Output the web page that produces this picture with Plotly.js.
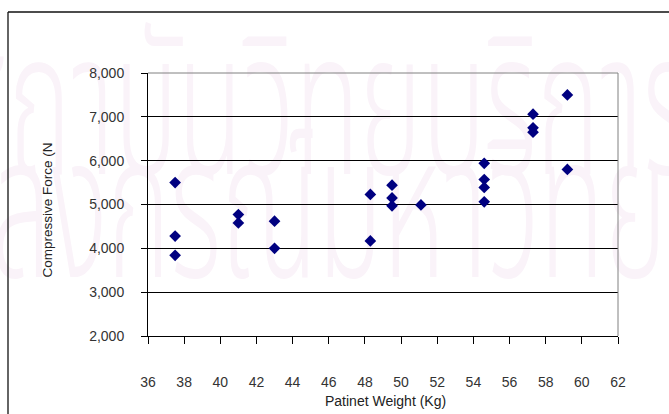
<!DOCTYPE html>
<html>
<head>
<meta charset="utf-8">
<script src="https://cdn.plot.ly/plotly-3.0.1.min.js"></script>
<style>
  html, body { margin: 0; padding: 0; background: #ffffff; }
  #wrap { position: relative; width: 669px; height: 414px; overflow: hidden; }
  .wm { position: absolute; white-space: nowrap; color: #faf3f9;
        font-family: "Noto Sans Thai", "Loma", "Garuda", "Norasi", sans-serif;
        font-size: 112px; font-weight: 300; line-height: 1;
        transform: scale(0.95, 1.8); transform-origin: 0 0; }
  #chart { position: absolute; left: 0; top: 0; width: 669px; height: 414px; }
</style>
</head>
<body>
<div id="wrap">
  <div class="wm" style="top:12px; left:-52px;">สถาบันวิทยบริการ</div>
  <div class="wm" style="top:115px; left:-178px;">จุฬาลงกรณ์มหาวิทยาลัย</div>
  <div id="chart"></div>
</div>
<script>
// Patient body weight (kg) and measured compressive force (N)
const weightKg = [37.5, 37.5, 37.5, 41.0, 41.0, 43.0, 43.0, 48.3, 48.3, 49.5, 49.5, 49.5,
                  51.1, 54.6, 54.6, 54.6, 54.6, 57.3, 57.3, 57.3, 59.2, 59.2];
const forceN   = [5500, 4280, 3840, 4770, 4580, 4620, 4000, 5230, 4170, 5440, 5150, 4970,
                  4990, 5940, 5570, 5390, 5060, 7060, 6750, 6650, 7500, 5800];

const xTicks = [36, 38, 40, 42, 44, 46, 48, 50, 52, 54, 56, 58, 60, 62];
const yTicks = [2000, 3000, 4000, 5000, 6000, 7000, 8000];

const xTitle = 'Patinet Weight (Kg)';
const yTitle = 'Compressive Force (N';

const W = 669, H = 414;
const M = { l: 148, r: 51, t: 73, b: 78 };
const pw = W - M.l - M.r, ph = H - M.t - M.b;
// pixel -> paper helpers for decorations outside the plot area
const px = v => (v - M.l) / pw;
const py = v => (H - M.b - v) / ph;

const tickFont = { family: 'Liberation Sans, Arial, sans-serif', size: 14, color: '#333333' };

const trace = {
  type: 'scatter',
  mode: 'markers',
  x: weightKg,
  y: forceN,
  marker: { symbol: 'diamond', size: 9, color: '#000080', line: { width: 0 } },
  hoverinfo: 'x+y'
};

const layout = {
  width: W, height: H,
  margin: M,
  autosize: false,
  paper_bgcolor: 'rgba(0,0,0,0)',
  plot_bgcolor: 'rgba(0,0,0,0)',
  showlegend: false,
  xaxis: {
    range: [xTicks[0], xTicks[xTicks.length - 1]],
    tickvals: xTicks,
    ticktext: xTicks.map(String),
    showgrid: false,
    zeroline: false,
    showline: true, linecolor: '#000000', linewidth: 1,
    ticks: 'outside', ticklen: 7, tickcolor: '#000000', tickwidth: 1,
    ticklabelstandoff: 26,
    tickfont: tickFont
  },
  yaxis: {
    range: [yTicks[0], yTicks[yTicks.length - 1]],
    tickvals: yTicks,
    tickformat: ',d',
    showgrid: true, gridcolor: '#000000', gridwidth: 1,
    zeroline: false,
    showline: true, linecolor: '#000000', linewidth: 1,
    ticks: 'outside', ticklen: 6, tickcolor: '#000000', tickwidth: 1,
    ticklabelstandoff: 14,
    tickfont: tickFont
  },
  shapes: [
    // plot frame: top and right edges
    { type: 'line', xref: 'paper', yref: 'paper', x0: 0, x1: 1, y0: 1, y1: 1,
      line: { color: '#808080', width: 1 } },
    { type: 'line', xref: 'paper', yref: 'paper', x0: 1, x1: 1, y0: 0, y1: 1,
      line: { color: '#808080', width: 1 } },
    // outer chart border (left and top edges)
    { type: 'line', xref: 'paper', yref: 'paper', x0: px(8), x1: px(8), y0: py(12), y1: py(430),
      line: { color: '#111111', width: 1.3 } },
    { type: 'line', xref: 'paper', yref: 'paper', x0: px(8), x1: px(690), y0: py(12), y1: py(12),
      line: { color: '#111111', width: 1.3 } }
  ],
  annotations: [
    { text: xTitle, xref: 'paper', yref: 'paper', x: 0.5, y: 0, xanchor: 'center', yanchor: 'middle',
      yshift: -65, xshift: 2, showarrow: false,
      font: { family: 'Liberation Sans, Arial, sans-serif', size: 14, color: '#222222' } },
    { text: yTitle, xref: 'paper', yref: 'paper', x: 0, y: py(210), xanchor: 'center', yanchor: 'middle',
      xshift: 46.5 - M.l, textangle: -90, showarrow: false,
      font: { family: 'Liberation Sans, Arial, sans-serif', size: 13.5, color: '#222222' } }
  ]
};

Plotly.newPlot('chart', [trace], layout, { staticPlot: true, displayModeBar: false });
</script>
</body>
</html>
